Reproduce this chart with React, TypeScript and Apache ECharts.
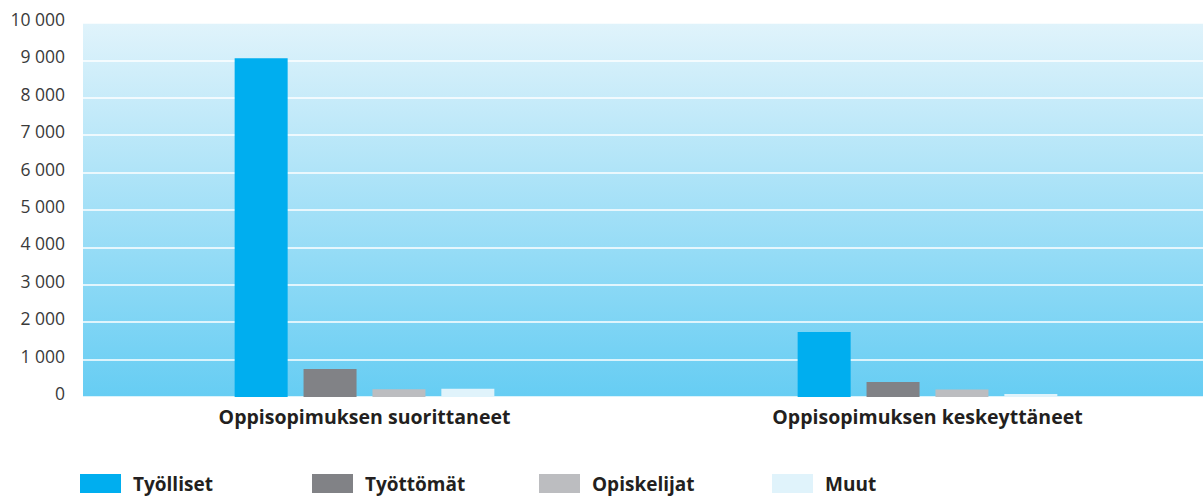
import React, { useEffect, useRef } from "react";
import * as echarts from "echarts";

const categories = ["Oppisopimuksen suorittaneet", "Oppisopimuksen keskeyttäneet"];
const seriesNames = ["Työlliset", "Työttömät", "Opiskelijat", "Muut"];
const tyolliset = [9060, 1740];
const tyottomat = [750, 400];
const opiskelijat = [210, 200];
const muut = [220, 80];
const seriesColors = ["#00aeef", "#818286", "#bcbdc0", "#e0f3fb"];
const legendLefts = [80, 312, 539, 772];

const fmt = (v: number) => {
  const s = String(v);
  return s.replace(/\B(?=(\d{3})+(?!\d))/g, " ");
};

export default function App() {
  const ref = useRef<HTMLDivElement>(null);
  useEffect(() => {
    document.body.style.margin = "0";
    const chart = echarts.init(ref.current!, null, { renderer: "svg" });
    const values = [tyolliset, tyottomat, opiskelijat, muut];
    const font = "'Open Sans', 'Noto Sans', sans-serif";
    chart.setOption({
      animation: false,
      textStyle: { fontFamily: font },
      grid: {
        left: 83,
        right: 0,
        top: 23,
        bottom: 100,
        show: true,
        borderWidth: 0,
        backgroundColor: new echarts.graphic.LinearGradient(0, 0, 0, 1, [
          { offset: 0, color: "#e0f3fb" },
          { offset: 1, color: "#66cdf3" },
        ]),
      },
      legend: seriesNames.map((n, i) => ({
        data: [n],
        left: legendLefts[i],
        top: 474,
        padding: 0,
        itemWidth: 41,
        itemHeight: 19,
        icon: "rect",
        selectedMode: false,
        textStyle: {
          fontFamily: font,
          fontSize: 19,
          fontWeight: "bold",
          color: "#231f20",
          padding: [0, 0, 0, 7],
        },
      })),
      xAxis: {
        type: "category",
        data: categories,
        axisLine: { show: false },
        axisTick: { show: false },
        axisLabel: {
          margin: 9,
          fontSize: 19.5,
          fontWeight: "bold",
          color: "#231f20",
          fontFamily: font,
        },
      },
      yAxis: {
        type: "value",
        min: 0,
        max: 10000,
        interval: 1000,
        axisLine: { show: false },
        axisTick: { show: false },
        splitLine: { show: true, lineStyle: { color: "#ffffff", width: 1.5 } },
        axisLabel: {
          margin: 18,
          fontSize: 17.5,
          color: "#3a3a3a",
          fontFamily: font,
          verticalAlign: "bottom",
          lineHeight: 8,
          formatter: (v: number) => fmt(v),
        },
      },
      series: seriesNames.map((n, i) => ({
        name: n,
        type: "bar",
        data: values[i],
        barWidth: 53,
        barGap: "30%",
        itemStyle: { color: seriesColors[i] },
      })),
    });
    return () => chart.dispose();
  }, []);
  return (
    <div style={{ width: 1203, height: 497, overflow: "hidden" }}>
      <div ref={ref} style={{ width: 1209, height: 497 }} />
    </div>
  );
}
